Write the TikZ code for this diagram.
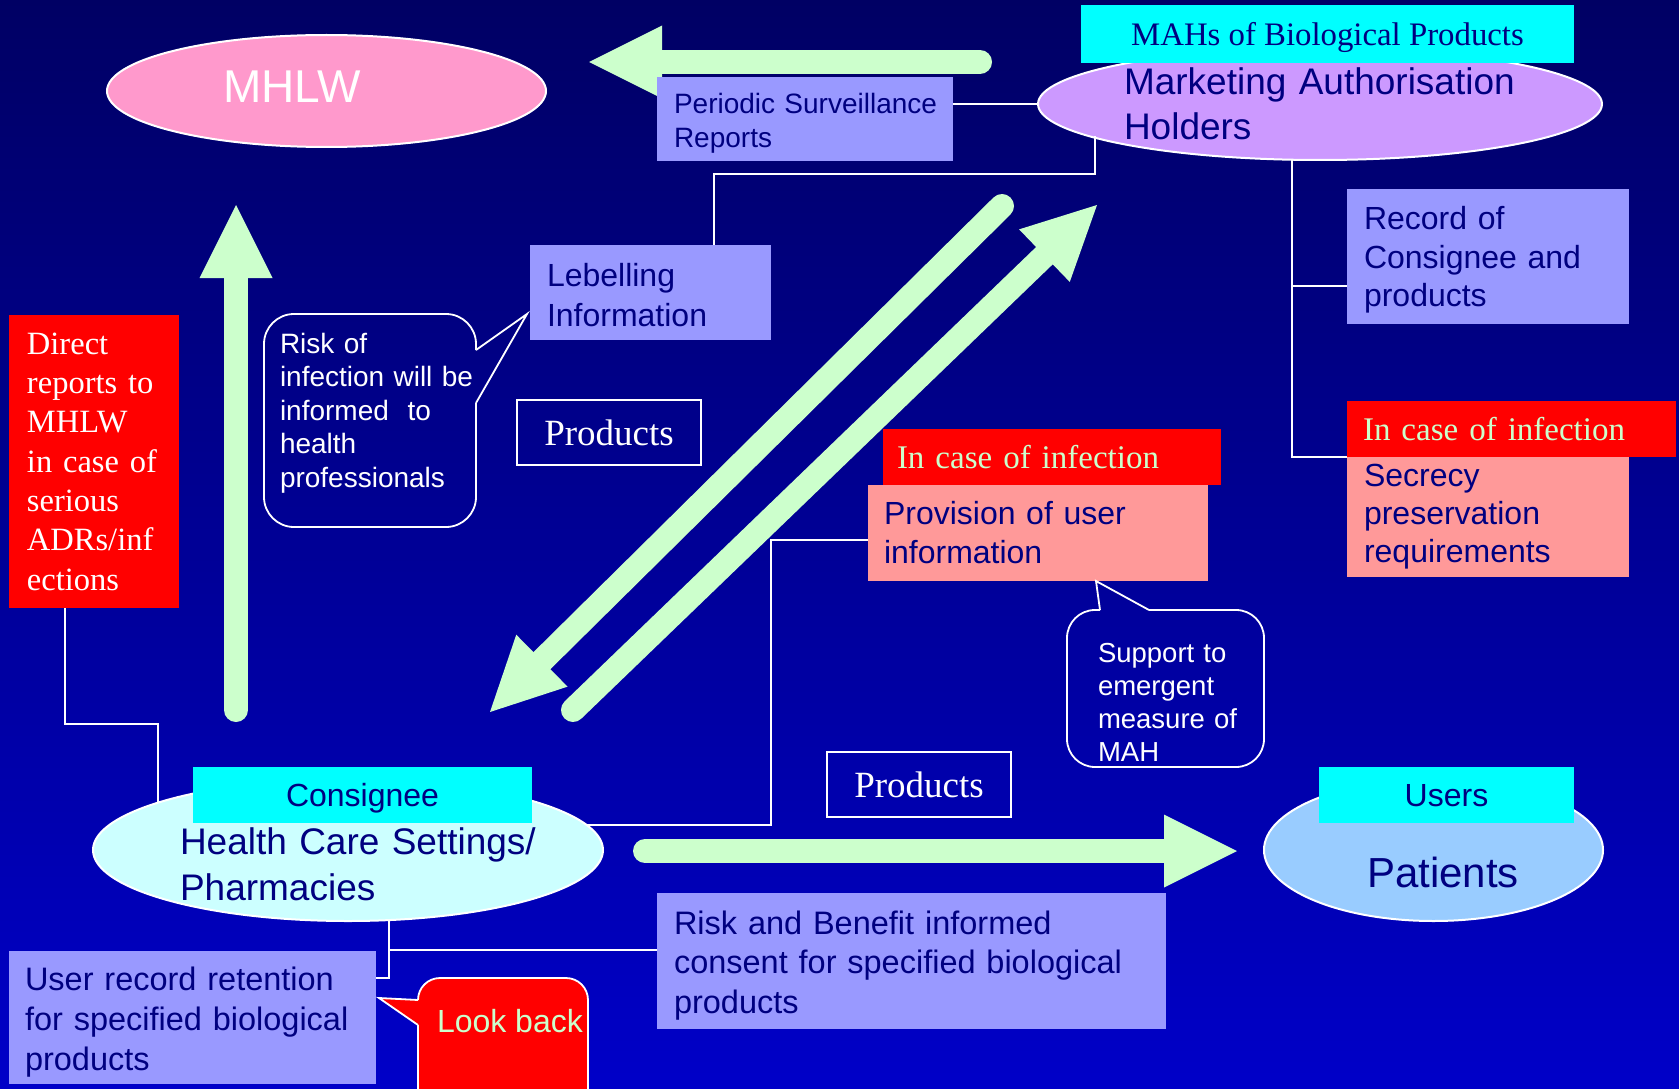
\documentclass[tikz,border=0pt]{standalone}
\usepackage{fontspec}
\setmainfont{Liberation Serif}
\setsansfont{Liberation Sans}
\usetikzlibrary{shapes.geometric,arrows.meta,calc}

\definecolor{lgreen}{HTML}{CCFFCC}
\definecolor{navy}{HTML}{000080}
\definecolor{peri}{HTML}{9999FF}
\definecolor{pinkb}{HTML}{FF9999}
\definecolor{redb}{HTML}{FF0000}
\definecolor{cyanb}{HTML}{00FFFF}
\definecolor{mhlwc}{HTML}{FF99CC}
\definecolor{mahc}{HTML}{CC99FF}
\definecolor{hcc}{HTML}{CCFFFF}
\definecolor{patc}{HTML}{99CCFF}
\definecolor{bgtop}{RGB}{0,0,100}
\definecolor{bgbot}{RGB}{0,0,200}

\newcommand{\fsz}[2]{\fontsize{#1}{#2}\selectfont}
\newcommand{\upstrut}[1]{\rule{0pt}{#1pt}}

\tikzset{
  every node/.style={inner sep=0pt, outer sep=0pt},
  conn/.style={draw=white, line width=1.5pt},
  calloutline/.style={draw=white, line width=1.8pt, line join=miter},
  bigarrow/.style={draw=lgreen, line width=24pt, line cap=round,
    -{Triangle[length=73pt,width=73pt,line width=0pt]}},
  ell/.style={ellipse, draw=white, line width=2pt},
  box/.style={rectangle, anchor=north west, text=navy, align=left},
  cbox/.style={rectangle, fill=cyanb, text=navy, text depth=0pt},
  pbox/.style={rectangle, draw=white, line width=2pt, text=white,
    font=\rmfamily\fsz{37}{40}, text depth=0pt, minimum width=184pt, minimum height=65pt},
  txtc/.style={anchor=base},
  txtl/.style={anchor=base west, align=left},
}

\begin{document}
\begin{tikzpicture}[x=1pt,y=-1pt]
\useasboundingbox (0,0) rectangle (1679,1089);
\shade[top color=bgtop,bottom color=bgbot] (0,0) rectangle (1679,1089);

% ---------- big green arrows ----------
\coordinate (aLs) at (980,62);   \coordinate (aLe) at (589,62);
\coordinate (aVs) at (236,710);  \coordinate (aVe) at (236,205);
\coordinate (aHs) at (645,851);  \coordinate (aHe) at (1237,851);
\coordinate (aAs) at (1002,206); \coordinate (aAe) at (490,712);
\coordinate (aBs) at (573,710);  \coordinate (aBe) at (1097,205);
\draw[bigarrow] (aLs) -- (aLe);
\draw[bigarrow] (aVs) -- (aVe);
\draw[bigarrow] (aHs) -- (aHe);
\draw[bigarrow] (aAs) -- (aAe);
\draw[bigarrow] (aBs) -- (aBe);

% ---------- ellipses ----------
\node[ell, fill=mhlwc, minimum width=439pt, minimum height=112pt] (mhlw) at (326.5,91) {};
\node[txtc, text=white, font=\sffamily\fsz{46}{50}] (mhlwlbl) at (292,103) {MHLW};

\node[ell, fill=mahc, minimum width=564pt, minimum height=112pt, text width=392pt,
      align=left, text=navy, font=\sffamily\fsz{37}{45}] (mah) at (1320,104)
      {\mbox{Marketing Authorisation}\\Holders};

\node[ell, fill=hcc, minimum width=510pt, minimum height=142pt] (hc) at (348,850) {};
\node[txtl, text=navy, font=\sffamily\fsz{37}{46}, text width=380pt] (hclbl) at (180,854)
      {\mbox{Health Care Settings/}\\Pharmacies};

\node[ell, fill=patc, minimum width=339pt, minimum height=142pt] (pat) at (1433.5,850) {};
\node[txtc, text=navy, font=\sffamily\fsz{42}{46}] (patlbl) at (1443,887) {Patients};

% ---------- cyan labels ----------
\node[cbox, minimum width=493pt, minimum height=58pt, font=\rmfamily\fsz{32.8}{36}] (mahs)
      at (1327.5,34) {MAHs of Biological Products};
\node[cbox, minimum width=339pt, minimum height=56pt, font=\sffamily\fsz{32}{36}] (consignee)
      at (362.5,795) {Consignee};
\node[cbox, minimum width=255pt, minimum height=56pt, font=\sffamily\fsz{32}{36}] (users)
      at (1446.5,795) {Users};

% ---------- boxes ----------
\node[box, fill=peri, minimum width=296pt, minimum height=84pt, text width=262pt,
      font=\sffamily\fsz{28}{34}] (periodic) at (657,77) {\upstrut{29}\mbox{Periodic Surveillance}\\Reports};
\node[box, fill=peri, minimum width=241pt, minimum height=95pt, text width=207pt,
      font=\sffamily\fsz{32}{40}] (lebel) at (530,245) {\upstrut{27.6}Lebelling\\Information};
\node[box, fill=peri, minimum width=282pt, minimum height=135pt, text width=248pt,
      font=\sffamily\fsz{32}{38.5}] (record) at (1347,189) {\upstrut{29.7}Record of\\\mbox{Consignee and}\\products};
\node[box, fill=pinkb, minimum width=282pt, minimum height=120pt, text width=248pt,
      font=\sffamily\fsz{32}{38}] (secrecy) at (1347,457) {Secrecy\\preservation\\requirements};
\node[box, fill=redb, text=lgreen, minimum width=329pt, minimum height=56pt, text width=297pt,
      font=\rmfamily\fsz{33}{38}] (infR) at (1347,401) {\mbox{In case of infection}};
\node[box, fill=redb, text=lgreen, minimum width=338pt, minimum height=56pt, text width=310pt,
      font=\rmfamily\fsz{33}{38}] (infM) at (883,429) {\mbox{In case of infection}};
\node[box, fill=pinkb, minimum width=340pt, minimum height=96pt, text width=308pt,
      font=\sffamily\fsz{32}{39}] (prov) at (868,485) {\mbox{Provision of user}\\information};
\node[box, fill=peri, minimum width=509pt, minimum height=136pt, text width=475pt,
      font=\sffamily\fsz{32.5}{39.5}] (riskben) at (657,893)
      {\upstrut{32.3}\mbox{Risk and Benefit informed}\\\mbox{consent for specified biological}\\products};
\node[box, fill=peri, minimum width=367pt, minimum height=133pt, text width=335pt,
      font=\sffamily\fsz{32.5}{40}] (userrec) at (9,951)
      {\upstrut{32.3}\mbox{User record retention}\\\mbox{for specified biological}\\products};
\node[box, fill=redb, text=white, minimum width=170pt, minimum height=293pt, text width=134pt,
      font=\rmfamily\fsz{32.5}{39.3}] (direct) at (9,315)
      {Direct\\\mbox{reports to}\\MHLW\\\mbox{in case of}\\serious\\ADRs/inf\\ections};

\node[pbox] (prod1) at (609,432.5) {Products};
\node[pbox] (prod2) at (919,784.5) {Products};

% ---------- callouts ----------
\draw[calloutline, rounded corners=30pt] (476,403) |- (264,527) -- (264,314) -- (476,314) -- (476,350);
\draw[calloutline] (476,350) -- (527,314) -- (476,403);
\node[txtl, text=white, font=\sffamily\fsz{28}{33.5}, text width=190pt] (risktxt) at (280,353)
      {Risk of\\\mbox{infection will be}\\\mbox{informed\ \ to}\\health\\professionals};

\draw[calloutline, rounded corners=28pt] (1149,610) -| (1264,767) -| (1067,610) -- (1100,610);
\draw[calloutline] (1100,610) -- (1096,581) -- (1149,610);
\node[txtl, text=white, font=\sffamily\fsz{27.5}{33.3}, text width=160pt] (supptxt) at (1098,662)
      {\mbox{Support to}\\emergent\\\mbox{measure of}\\MAH};

\fill[redb, rounded corners=22pt] (418,978) rectangle (588,1110);
\fill[redb] (419,1000) -- (379,998) -- (419,1025) -- cycle;
\draw[calloutline, rounded corners=22pt] (418,1025) -- (418,1110) -- (588,1110) -- (588,978) -- (418,978) -- (418,1000);
\draw[calloutline] (418,1000) -- (379,998) -- (418,1025);
\node[txtl, text=lgreen, font=\sffamily\fsz{32}{36}] (lookback) at (437,1032) {Look back};

% ---------- connector lines ----------
\coordinate (e1a) at (1095,174);
\coordinate (e1) at (714,174);
\coordinate (e2) at (1292,286);
\coordinate (e3) at (771,540);
\coordinate (e4) at (389,950);
\coordinate (e5) at (389,978);
\coordinate (e6) at (65,724);

\draw[conn] (mah.west) -- (mah.west -| periodic.east);
\draw[conn] (e1a |- mah.188.6) -- (e1a) -- (e1) -- (e1 |- lebel.north);
\draw[conn] (e2 |- mah.243.3) |- (secrecy.north west);
\draw[conn] (e2) -- (e2 -| record.west);
\draw[conn] (e3 -| prov.west) -- (e3) |- (hc.6.8);
\draw[conn] (e5 |- hc.300.3) -- (e5) -- (e5 -| userrec.east);
\draw[conn] (e4) -- (e4 -| riskben.west);
\draw[conn] (e6 |- direct.south) -- (e6) -| (hc.166.8);
\end{tikzpicture}
\end{document}
